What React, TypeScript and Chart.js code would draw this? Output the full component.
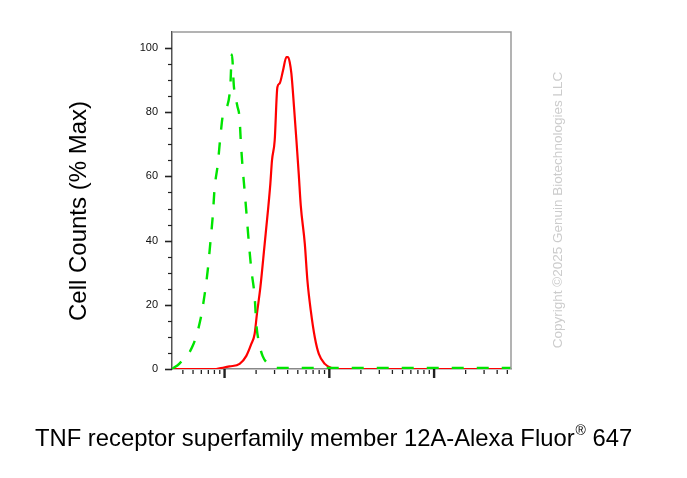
import React, { useEffect, useRef } from 'react';
import { Chart, registerables } from 'chart.js';

Chart.register(...registerables);

// ---- data ----
const redX = [315, 833, 896, 1116, 1392, 1614, 1800, 1936, 2037, 2196, 2415, 2596, 2735, 2836, 3009, 3192, 3357, 3612, 3893, 4036, 4188, 4345, 4603, 4853, 5105, 5336, 5834, 6180, 6653, 7265, 7937, 9063, 10500, 11720, 50000, 542000];
const redY = [0, 0, 0.2, 0.8, 1.6, 4.1, 7.8, 10.9, 17.2, 25.4, 39, 49.4, 57.7, 65, 71.2, 87.8, 89, 93, 97.2, 97.2, 95.6, 92, 81.6, 71.2, 60.8, 51, 39, 27.5, 18.2, 9.9, 4.7, 1.6, 0.3, 0, 0, 0];

const greenX = [315, 371, 498, 585, 644, 692, 730, 773, 802, 863, 910, 963, 1052, 1134, 1175, 1228, 1323, 1392, 1423, 1477, 1553, 1614, 1709, 1800, 1936, 2010, 2163, 2311, 2579, 2818, 3357, 5000, 20000, 100000, 542000];
const greenY = [0, 1.7, 7.3, 15, 23, 31, 39, 48, 56, 64, 72, 79, 81.5, 88, 98, 88, 82, 78, 72, 64, 55.6, 49, 39, 31, 22.6, 14, 7.3, 4, 1.7, 0.7, 0.3, 0.3, 0.3, 0.3, 0.3];

const yMajorTicks = [0, 20, 40, 60, 80, 100];
const yMinorTicks = [5, 10, 15, 25, 30, 35, 45, 50, 55, 65, 70, 75, 85, 90, 95];
const xMajorTicks = [1000, 10000, 100000];
const xMinorTicks = [
  400, 500, 600, 700, 800, 900,
  2000, 3000, 4000, 5000, 6000, 7000, 8000, 9000,
  20000, 30000, 40000, 50000, 60000, 70000, 80000, 90000,
  200000, 300000, 400000, 500000,
];

const xMin = 315;
const xMax = 542000;
const yMin = 0;
const yMax = 105;

const yTitle = 'Cell Counts (% Max)';
const xTitleMain = 'TNF receptor superfamily member 12A-Alexa Fluor';
const xTitleSup = '®';
const xTitleEnd = ' 647';
const watermark = 'Copyright ©2025 Genuin Biotechnologies LLC';

const FONT = '"Liberation Sans", Arial, sans-serif';

const decorPlugin = {
  id: 'decor',
  afterDraw(chart: any) {
    const { ctx, chartArea: a, scales } = chart;
    const xs = scales.x;
    const ys = scales.y;
    ctx.save();

    // top & right frame
    ctx.strokeStyle = '#9a9a9a';
    ctx.lineWidth = 1.5;
    ctx.beginPath();
    ctx.moveTo(a.left, a.top);
    ctx.lineTo(a.right, a.top);
    ctx.lineTo(a.right, a.bottom);
    ctx.stroke();

    // y ticks
    ctx.strokeStyle = '#222';
    ctx.lineWidth = 1.6;
    for (const v of yMajorTicks) {
      const p = Math.round(ys.getPixelForValue(v)) + 0.5;
      ctx.beginPath();
      ctx.moveTo(a.left - 7, p);
      ctx.lineTo(a.left, p);
      ctx.stroke();
    }
    ctx.lineWidth = 1.2;
    for (const v of yMinorTicks) {
      const p = Math.round(ys.getPixelForValue(v)) + 0.5;
      ctx.beginPath();
      ctx.moveTo(a.left - 4, p);
      ctx.lineTo(a.left, p);
      ctx.stroke();
    }

    // x ticks
    ctx.lineWidth = 2.4;
    for (const v of xMajorTicks) {
      const p = xs.getPixelForValue(v);
      ctx.beginPath();
      ctx.moveTo(p, a.bottom);
      ctx.lineTo(p, a.bottom + 9);
      ctx.stroke();
    }
    ctx.lineWidth = 1.3;
    for (const v of xMinorTicks) {
      const p = xs.getPixelForValue(v);
      ctx.beginPath();
      ctx.moveTo(p, a.bottom + 1);
      ctx.lineTo(p, a.bottom + 5);
      ctx.stroke();
    }

    // y title
    ctx.fillStyle = '#000';
    ctx.save();
    ctx.translate(79, 211);
    ctx.rotate(-Math.PI / 2);
    ctx.font = `24px ${FONT}`;
    ctx.textAlign = 'center';
    ctx.textBaseline = 'middle';
    ctx.fillText(yTitle, 0, 0);
    ctx.restore();

    // x title with superscript
    ctx.textAlign = 'left';
    ctx.textBaseline = 'alphabetic';
    ctx.font = `23.8px ${FONT}`;
    const x0 = 35;
    const base = 446;
    ctx.fillText(xTitleMain, x0, base);
    const w1 = ctx.measureText(xTitleMain).width;
    ctx.font = `14px ${FONT}`;
    ctx.fillText(xTitleSup, x0 + w1 + 1, base - 11);
    const w2 = ctx.measureText(xTitleSup).width;
    ctx.font = `23.8px ${FONT}`;
    ctx.fillText(xTitleEnd, x0 + w1 + 1 + w2, base);

    // watermark
    ctx.save();
    ctx.translate(558, 210);
    ctx.rotate(-Math.PI / 2);
    ctx.font = `13.5px ${FONT}`;
    ctx.fillStyle = '#cccccc';
    ctx.textAlign = 'center';
    ctx.textBaseline = 'middle';
    ctx.fillText(watermark, 0, 0);
    ctx.restore();

    ctx.restore();
  },
};

export default function App() {
  const ref = useRef<HTMLCanvasElement | null>(null);

  useEffect(() => {
    if (!ref.current) return;
    const chart = new Chart(ref.current, {
      type: 'line',
      data: {
        datasets: [
          {
            label: 'control',
            data: greenX.map((x, i) => ({ x, y: greenY[i] })),
            borderColor: 'rgb(0,228,0)',
            borderWidth: 2.4,
            borderDash: [12, 13],
            pointRadius: 0,
            fill: false,
            cubicInterpolationMode: 'monotone',
          },
          {
            label: 'stained',
            data: redX.map((x, i) => ({ x, y: redY[i] })),
            borderColor: '#ff0000',
            borderWidth: 2.2,
            pointRadius: 0,
            fill: false,
            cubicInterpolationMode: 'monotone',
          },
        ],
      },
      options: {
        animation: false,
        responsive: true,
        maintainAspectRatio: false,
        layout: { padding: { left: 0, top: 32, right: 176, bottom: 109 } },
        plugins: {
          legend: { display: false },
          tooltip: { enabled: false },
        },
        scales: {
          x: {
            type: 'logarithmic',
            min: xMin,
            max: xMax,
            grid: { display: false, drawTicks: false },
            border: { display: true, color: '#888', width: 1.5 },
            ticks: { display: false },
            afterFit: (s: any) => {
              s.height = 0;
            },
          },
          y: {
            type: 'linear',
            min: yMin,
            max: yMax,
            grid: { display: false, drawTicks: false },
            border: { display: true, color: '#555', width: 1.5 },
            ticks: {
              padding: 14,
              color: '#111',
              font: { family: FONT, size: 11 },
              callback: (v: any) => String(v),
            },
            afterBuildTicks: (s: any) => {
              s.ticks = yMajorTicks.map((v) => ({ value: v }));
            },
            afterFit: (s: any) => {
              s.width = 172;
            },
          },
        },
      },
      plugins: [decorPlugin],
    } as any);
    return () => chart.destroy();
  }, []);

  return (
    <div style={{ position: 'absolute', left: 0, top: 0, width: 687, height: 478, background: '#fff' }}>
      <canvas ref={ref} />
    </div>
  );
}
